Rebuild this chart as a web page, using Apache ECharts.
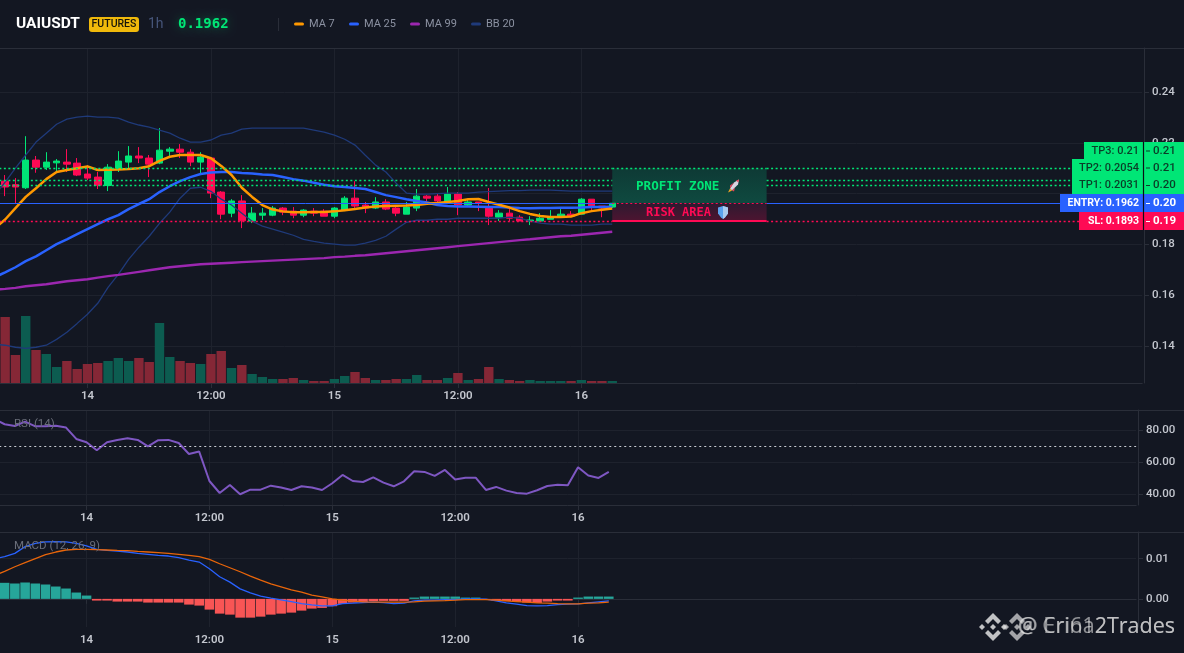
<!DOCTYPE html>
<html><head><meta charset="utf-8">
<style>html,body{margin:0;padding:0;background:#131722;overflow:hidden}#c{width:1184px;height:653px}</style>
<script src="https://cdn.jsdelivr.net/npm/echarts@6/dist/echarts.min.js"></script>
</head><body><div id="c"></div>
<script>
// candles: [open, close, low, high]
const candles = [
[.2049,.2026,.1990,.2073],[.2035,.2026,.1963,.2061],[.2023,.2132,.2018,.2226],[.2132,.2104,.2082,.2148],[.2104,.2124,.2093,.2163],
[.2121,.2128,.2085,.2136],[.2124,.2116,.2085,.2175],[.2120,.2073,.2069,.2140],[.2077,.2061,.2053,.2112],[.2065,.2033,.2018,.2085],
[.2032,.2104,.2010,.2116],[.2100,.2128,.2085,.2167],[.2124,.2148,.2093,.2187],[.2148,.2140,.2120,.2183],[.2140,.2116,.2065,.2152],
[.2120,.2171,.2116,.2258],[.2167,.2175,.2140,.2183],[.2175,.2163,.2140,.2195],[.2163,.2124,.2108,.2175],[.2124,.2144,.2081,.2163],
[.2140,.2002,.1982,.2144],[.2006,.1919,.1899,.2010],[.1923,.1971,.1907,.1978],[.1971,.1893,.1864,.1994],[.1892,.1923,.1884,.1947],
[.1915,.1923,.1896,.1943],[.1915,.1943,.1911,.1951],[.1943,.1927,.1915,.1947],[.1931,.1915,.1903,.1947],[.1915,.1935,.1907,.1939],
[.1931,.1923,.1911,.1943],[.1931,.1911,.1911,.1939],[.1911,.1943,.1903,.1947],[.1935,.1982,.1931,.1990],[.1982,.1951,.1943,.2049],
[.1955,.1943,.1923,.1967],[.1943,.1967,.1939,.1986],[.1967,.1939,.1935,.1978],[.1943,.1923,.1911,.1955],[.1919,.1947,.1919,.1967],
[.1943,.1990,.1931,.2018],[.1990,.1982,.1967,.1994],[.1990,.1971,.1955,.2002],[.1967,.1998,.1959,.2026],[.1998,.1955,.1915,.2006],
[.1955,.1967,.1947,.1975],[.1967,.1963,.1931,.1967],[.1943,.1911,.1876,.2022],[.1907,.1923,.1892,.1935],[.1923,.1903,.1892,.1939],
[.1907,.1892,.1892,.1915],[.1892,.1896,.1876,.1911],[.1892,.1903,.1892,.1923],[.1899,.1907,.1899,.1935],[.1911,.1919,.1911,.1939],
[.1919,.1911,.1907,.1931],[.1919,.1978,.1919,.1982],[.1978,.1951,.1931,.1978],[.1951,.1943,.1907,.1951],[.1947,.1962,.1943,.1963]
];
const volumes = [66,28,67,33,29,16,22,14,19,20,22,25,22,25,21,60,26,22,20,19,29,32,15,18,9,6,4,4,5,3,
2,2,4,7,11,5,3,3,4,4,8,3,3,5,10,3,4,16,4,3,2,3,2,2,2,2,3,2,2,2];
const volumeUp = [0,0,1,0,1,1,0,0,0,0,1,1,1,0,0,1,1,0,0,1,0,0,1,0,1,1,1,0,0,1,
0,0,1,1,0,0,1,0,0,1,1,0,0,1,0,1,0,0,1,0,0,1,1,1,1,0,1,0,0,1];
// line series start with one point just left of the visible frame
const ma7 = [.1864,
.1898,.1943,.1987,.2021,.2057,.2085,.2093,.2100,.2107,.2093,
.2094,.2095,.2097,.2100,.2108,.2129,.2145,.2152,.2152,.2152,
.2139,.2109,.2073,.2023,.1987,.1955,.1937,.1930,.1927,.1927,
.1928,.1928,.1930,.1934,.1939,.1945,.1949,.1951,.1952,.1953,
.1955,.1960,.1963,.1967,.1971,.1978,.1979,.1967,.1956,.1945,
.1931,.1920,.1912,.1908,.1908,.1910,.1923,.1931,.1936,.1941];
const ma25 = [.1671,
.1690,.1710,.1734,.1753,.1777,.1801,.1820,.1840,.1860,.1880,
.1899,.1915,.1939,.1959,.1978,.2006,.2029,.2049,.2065,.2077,
.2083,.2085,.2085,.2081,.2079,.2075,.2073,.2065,.2057,.2051,
.2043,.2035,.2029,.2026,.2022,.2018,.2006,.1994,.1986,.1978,
.1971,.1965,.1955,.1951,.1949,.1949,.1948,.1947,.1947,.1945,
.1943,.1942,.1943,.1943,.1944,.1944,.1945,.1947,.1947,.1948];
const ma99 = [.1622,
.1625,.1629,.1635,.1639,.1643,.1649,.1655,.1659,.1663,.1669,
.1675,.1680,.1686,.1692,.1698,.1704,.1710,.1714,.1718,.1722,
.1724,.1726,.1728,.1730,.1732,.1734,.1736,.1738,.1740,.1742,
.1744,.1746,.1750,.1752,.1755,.1757,.1761,.1765,.1769,.1773,
.1777,.1781,.1785,.1789,.1793,.1797,.1801,.1805,.1809,.1813,
.1817,.1820,.1824,.1828,.1832,.1834,.1838,.1842,.1846,.1850];
const bbUpper = [.1994,
.2045,.2100,.2152,.2203,.2238,.2273,.2293,.2301,.2305,.2301,
.2301,.2297,.2281,.2270,.2262,.2250,.2238,.2218,.2203,.2203,
.2211,.2230,.2238,.2254,.2258,.2258,.2258,.2258,.2258,.2258,
.2250,.2242,.2230,.2214,.2191,.2151,.2112,.2085,.2041,.2002,
.1998,.1998,.2000,.2002,.2002,.2002,.2006,.2008,.2010,.2012,
.2012,.2014,.2014,.2014,.2012,.2010,.2010,.2010,.2010,.2010];
const bbLower = [.1407,
.1403,.1395,.1391,.1395,.1403,.1426,.1454,.1489,.1525,.1568,
.1631,.1682,.1741,.1789,.1832,.1883,.1927,.1982,.2021,.2025,
.2009,.1978,.1955,.1923,.1891,.1872,.1860,.1848,.1836,.1820,
.1812,.1805,.1801,.1797,.1797,.1805,.1816,.1832,.1860,.1887,
.1895,.1895,.1899,.1899,.1903,.1903,.1903,.1903,.1903,.1907,
.1903,.1892,.1884,.1880,.1880,.1876,.1876,.1876,.1880,.1880];
const rsi = [87,
83.8,82.7,85.4,82.5,82.5,82.9,81.7,74.6,72.5,67.5,
72.5,74,75,74,70,73.8,74,72.1,65.2,66.7,
48.3,40.8,45.8,40,42.9,42.9,45.4,44.2,42.7,45,
44.2,42.7,46.9,52.1,48.3,47.7,50.6,47.3,45,48.1,
54.4,54,51.5,55.2,49.2,50.4,50.4,42.7,44.6,42.3,
40.8,40.4,42.5,45.2,46,45.6,56.9,51.7,50.2,54];
// MACD family, in thousandths
const macdLine = [10,
10.5,11.33,13,13.83,14.17,14.25,14.17,13.83,13.17,12.33,
12.08,11.92,11.67,11.33,11.08,10.83,10.67,10.25,9.67,9.17,
7.5,5.5,4.17,2.5,1.5,.67,.17,-.25,-.67,-1.17,
-1.5,-1.75,-1.75,-1.17,-1.08,-.92,-.83,-.92,-1.17,-1.08,
-.5,-.33,-.33,-.17,-.17,0,0,-.08,-.5,-1,
-1.33,-1.67,-1.75,-1.67,-1.42,-1.33,-1.25,-1,-.75,-.5];
const macdSignal = [5.83,
6.83,8,9,10,11,11.67,12.17,12.33,12.33,12.25,
12.17,12.08,12,11.83,11.67,11.5,11.33,11.08,10.83,10.5,
9.83,8.75,7.75,6.75,5.67,4.67,3.75,3,2.25,1.67,
.92,.5,0,-.33,-.58,-.75,-.83,-.83,-.83,-.83,
-.75,-.58,-.5,-.42,-.33,-.17,-.17,-.17,-.33,-.5,
-.67,-.83,-1,-1.08,-1.17,-1.25,-1.25,-1.08,-1,-.83];
const macdHist = [
4,3.83,4.08,3.83,3.58,3.08,2.58,1.58,.83,-.42,
-.42,-.67,-.67,-.67,-.92,-.92,-.92,-.92,-1.42,-1.67,
-2.67,-3.67,-3.92,-4.67,-4.67,-4.42,-3.92,-3.67,-3.42,-2.92,
-2.42,-2.25,-1.83,-1.25,-.92,-.75,-.58,-.5,-.5,-.5,
.33,.58,.58,.58,.58,.33,.33,-.25,-.42,-.58,
-.75,-.92,-1,-.67,-.42,-.42,.33,.58,.58,.58];
const levels = {tp3:.2099, tp2:.2054, tp1:.2031, entry:.1962, sl:.1893};
const priceTicks = [.14,.16,.18,.20,.22,.24];
const rsiTicks = [40,60,80];
const macdTicks = [0,.01];
const legendItems = [['MA 7','#ff9800',294,309],['MA 25','#2962ff',349,364],['MA 99','#9c27b0',410,425],['BB 20','#1f3a7a',471,486]];
const priceTags = [
 ['TP3: 0.21','0.21',1084,142,17,'#00e676','#0a3d28'],
 ['TP2: 0.2054','0.21',1072,159,17,'#00e676','#0a3d28'],
 ['TP1: 0.2031','0.20',1072,176,18,'#00e676','#0a3d28'],
 ['ENTRY: 0.1962','0.20',1060,194,18,'#2962ff','#ffffff'],
 ['SL: 0.1893','0.19',1079,212,18,'#ff0a54','#ffffff']];

const SLOTS = 112, LEAD = 1, LAST_TIME_SLOT = 57, DAY_SLOT = 9, ZONE_FROM = 60, ZONE_TO = 75;
const categories = [];
for (let k=0;k<SLOTS;k++){const h=k-DAY_SLOT;
  categories.push(((h%24)+24)%24===0 ? String(14+h/24) : (((h%24)+24)%24===12 ? '12:00' : String(((h%24)+24)%24)+':00'));}
const isMark = i => { const h=i-DAY_SLOT; return i<=LAST_TIME_SLOT && ((h%12)+12)%12===0; };
const pad = a => Array(LEAD).fill('-').concat(a);
const milli = a => a.map(v => v==='-'?v:v/1000);

const GRID='#1e222d', AXIS='#2a2e39', LABEL='#c3c6ce', UP='#00e676', DOWN='#ff0a54';
const xAxisFor = (g,show) => ({type:'category',gridIndex:g,data:categories,boundaryGap:true,
  axisLine:{show:show,lineStyle:{color:AXIS}},
  axisTick:{show:show,alignWithLabel:true,interval:isMark,length:5,lineStyle:{color:AXIS}},
  splitLine:{show:show,alignWithLabel:true,interval:isMark,lineStyle:{color:GRID}},
  axisLabel:{show:show,interval:isMark,color:LABEL,fontSize:11.5,fontWeight:600,fontFamily:'Roboto',margin:7,
    formatter:v=>/^\d+$/.test(v)||v==='12:00'?v:''}});
const yAxisFor = (g,min,max,ticks,fmt,off) => ({type:'value',gridIndex:g,position:'right',offset:off,min,max,scale:true,
  axisLine:{show:true,lineStyle:{color:AXIS}},
  axisTick:{show:true,length:5,customValues:ticks,lineStyle:{color:AXIS}},
  axisLabel:{color:LABEL,fontSize:11.5,fontWeight:500,fontFamily:'Roboto',margin:8,padding:[2,0,0,0],customValues:ticks,formatter:fmt},
  splitLine:{show:true,lineStyle:{color:GRID}}});

const line=(name,data,x,y,color,w)=>({name,type:'line',data,xAxisIndex:x,yAxisIndex:y,showSymbol:false,symbol:'none',
  lineStyle:{color,width:w},silent:true,clip:true,z:3,animation:false});

const g=[];
const txt=(x,y,text,fill,font,align,extra)=>g.push({type:'text',z:100,x,y,silent:true,
  style:Object.assign({text,fill,font,align:align||'left',verticalAlign:'middle'},extra||{})});
const rect=(x,y,w,h,fill,r)=>g.push({type:'rect',z:99,silent:true,shape:{x,y,width:w,height:h,r:r||0},style:{fill}});
const seg=(x1,y1,x2,y2,stroke,lw,zz)=>g.push({type:'line',z:zz||98,silent:true,shape:{x1,y1,x2,y2},style:{stroke,lineWidth:lw||1}});

seg(0,48.5,1184,48.5,AXIS); seg(0,410.5,1184,410.5,AXIS); seg(0,532.5,1184,532.5,AXIS);
txt(16,24.5,'UAIUSDT','#ffffff','bold 15.5px Roboto');
rect(89,17,50,15,'#f0b90b',3);
txt(114,24.5,'FUTURES','#17150a','500 10.5px Roboto','center');
txt(148,24.5,'1h','#46557a','14px Roboto');
txt(178,24.5,'0.1962',UP,'bold 14px "DejaVu Sans Mono"','left',{textShadowColor:'rgba(0,230,118,.35)',textShadowBlur:8});
seg(278.5,18,278.5,31,AXIS);
legendItems.forEach(([t,c,x,tx])=>{rect(x,22.5,10,3,c,1.5);txt(tx,24.5,t,'#8b91a1','11px Roboto');});
txt(14,424,'RSI (14)','#6a6e7a','11.5px Roboto');
txt(14,546,'MACD (12, 26, 9)','#6a6e7a','11.5px Roboto');
priceTags.forEach(([t,v,x,y,h,bg,fg])=>{
  rect(x,y,1184-x,h,bg);
  const cy=y+h/2+.5, f='500 11px Roboto', b='bold 10.5px Roboto';
  txt(1139,cy,t,fg,bg==='#00e676'?f:b,'right');
  txt(1153,cy,v,fg,bg==='#00e676'?'500 11.5px Roboto':'bold 11.5px Roboto');
  seg(1146,cy,1150,cy,fg,1,100);
});
seg(1143.5,142,1143.5,230,'#0b0e14',1.2,100);
// zone captions' icons
const rocket=(cx,cy)=>{
  g.push({type:'polygon',z:100,silent:true,shape:{points:[[cx+6,cy-7],[cx+5,cy-2],[cx-1,cy+4],[cx-3,cy+2],[cx+1,cy-4]]},style:{fill:'#d9d3e0'}});
  g.push({type:'polygon',z:100,silent:true,shape:{points:[[cx+6,cy-7],[cx+5.4,cy-4],[cx+3,cy-6]]},style:{fill:'#e8405a'}});
  g.push({type:'polygon',z:100,silent:true,shape:{points:[[cx-3,cy-1],[cx+1,cy-4],[cx-3,cy+2]]},style:{fill:'#e8405a'}});
  g.push({type:'polygon',z:100,silent:true,shape:{points:[[cx+2,cy+1],[cx-1,cy+4],[cx+1,cy+5]]},style:{fill:'#e8405a'}});
  g.push({type:'polygon',z:100,silent:true,shape:{points:[[cx-3,cy+2],[cx-1,cy+4],[cx-5,cy+6]]},style:{fill:'#f5a623'}});
};
const shield=(cx,cy)=>{
  g.push({type:'polygon',z:100,silent:true,shape:{points:[[cx-5,cy-5],[cx,cy-6.5],[cx+5,cy-5],[cx+5,cy+1],[cx+2,cy+5],[cx,cy+6.5],[cx-2,cy+5],[cx-5,cy+1]]},style:{fill:'#5aa2ee'}});
  g.push({type:'polygon',z:100,silent:true,shape:{points:[[cx,cy-6.5],[cx+5,cy-5],[cx+5,cy+1],[cx+2,cy+5],[cx,cy+6.5]]},style:{fill:'#a9cbef'}});
};
rocket(733,186.5); shield(723,212.5);
txt(636,186.5,'PROFIT ZONE',UP,'bold 12.6px "DejaVu Sans Mono"');
txt(646,213,'RISK AREA','#ff0a54','bold 12px "DejaVu Sans Mono"');
// watermark
const logo=(cx,cy,s,fill)=>{
  const P=(pts)=>g.push({type:'polygon',z:101,silent:true,shape:{points:pts.map(([a,b])=>[cx+a*s,cy+b*s])},style:{fill}});
  P([[0,-14],[8,-6],[5,-3],[0,-8],[-5,-3],[-8,-6]]);
  P([[0,14],[8,6],[5,3],[0,8],[-5,3],[-8,6]]);
  P([[0,-3],[3,0],[0,3],[-3,0]]);
  P([[-11,-3],[-8,0],[-11,3],[-14,0]]);
  P([[11,-3],[14,0],[11,3],[8,0]]);
};
logo(993,627,1,'rgba(225,225,225,.85)');
logo(1017,627,1,'rgba(225,225,225,.7)');
txt(1175,627,'@ Erina2Trades','rgba(225,225,225,.6)','21.5px "Open Sans"','right');
txt(1175,627,'@ Cri612Trades','rgba(225,225,225,.6)','21.5px "Open Sans"','right');

const dotted=(v,color,lw)=>[
  [{xAxis:0,yAxis:v,lineStyle:{color,type:[2,2.5],width:lw}},{xAxis:ZONE_FROM,yAxis:v}],
  [{xAxis:ZONE_TO,yAxis:v,lineStyle:{color,type:[2,2.5],width:lw}},{xAxis:SLOTS-1,yAxis:v}]];
const solid=(v,color,lw)=>[
  [{xAxis:0,yAxis:v,lineStyle:{color,type:'solid',width:lw}},{xAxis:ZONE_FROM,yAxis:v}],
  [{xAxis:ZONE_TO,yAxis:v,lineStyle:{color,type:'solid',width:lw}},{xAxis:SLOTS-1,yAxis:v}]];

const G0={outerBoundsMode:'none',containLabel:false};
const opt={
 backgroundColor:'#131722',animation:false,
 grid:[
  Object.assign({left:-10.29,top:48,width:1152.48,height:335},G0),
  Object.assign({left:-10.29,top:48,width:1152.48,height:335},G0),
  Object.assign({left:-10.74,top:410,width:1146.88,height:95},G0),
  Object.assign({left:-10.74,top:532,width:1146.88,height:95},G0)],
 xAxis:[xAxisFor(0,true),xAxisFor(1,false),xAxisFor(2,true),xAxisFor(3,true)],
 yAxis:[
  yAxisFor(0,.12543,.25732,priceTicks,v=>v.toFixed(2),1.81),
  {type:'value',gridIndex:1,min:0,max:335,show:false,splitLine:{show:false}},
  yAxisFor(2,33.3,92.7,rsiTicks,v=>v.toFixed(2),1.86),
  yAxisFor(3,-.007,.01665,macdTicks,v=>v.toFixed(2),1.86)],
 series:[
  {type:'bar',xAxisIndex:1,yAxisIndex:1,barWidth:9.4,z:1,silent:true,
   data:pad(volumes.map((v,i)=>({value:v,itemStyle:{color:volumeUp[i]?'#0c5c50':'#852736'}})))},
  {type:'candlestick',xAxisIndex:0,yAxisIndex:0,barWidth:7,z:2,silent:true,
   data:[[null,null,null,null]].concat(candles),
   itemStyle:{color:UP,color0:DOWN,borderColor:UP,borderColor0:DOWN,borderWidth:1},
   markLine:{silent:true,symbol:'none',animation:false,precision:4,label:{show:false},data:[
     ...dotted(levels.tp3,UP,1.4),...dotted(levels.tp2,UP,1.4),...dotted(levels.tp1,UP,1.4),
     ...solid(levels.entry,'#2962ff',1),...dotted(levels.sl,DOWN,1.4)]}},
  line('BB upper',bbUpper,0,0,'#1f3a7a',1.3),
  line('BB lower',bbLower,0,0,'#1f3a7a',1.3),
  line('MA 99',ma99,0,0,'#9c27b0',2.4),
  line('MA 25',ma25,0,0,'#2962ff',2.5),
  line('MA 7',ma7,0,0,'#ff9800',2.5),
  {type:'line',xAxisIndex:0,yAxisIndex:0,data:[],z:6,silent:true,
   markArea:{silent:true,animation:false,data:[
     [{xAxis:ZONE_FROM,yAxis:levels.tp3,itemStyle:{color:{type:'linear',x:0,y:0,x2:0,y2:1,colorStops:[{offset:0,color:'#0e3a35'},{offset:1,color:'#0f4a40'}]},opacity:1}},{xAxis:ZONE_TO,yAxis:levels.entry}],
     [{xAxis:ZONE_FROM,yAxis:levels.entry,itemStyle:{color:{type:'linear',x:0,y:0,x2:0,y2:1,colorStops:[{offset:0,color:'#2e1a30'},{offset:1,color:'#4d1430'}]},opacity:1}},{xAxis:ZONE_TO,yAxis:levels.sl}]]},
   markLine:{silent:true,symbol:'none',animation:false,precision:4,label:{show:false},data:[
     [{xAxis:ZONE_FROM,yAxis:levels.tp3,lineStyle:{color:UP,type:[2,2.5],width:1.4}},{xAxis:ZONE_TO,yAxis:levels.tp3}],
     [{xAxis:ZONE_FROM,yAxis:levels.entry,lineStyle:{color:DOWN,type:[2,2.5],width:1}},{xAxis:ZONE_TO,yAxis:levels.entry}],
     [{xAxis:ZONE_FROM,yAxis:levels.sl,lineStyle:{color:DOWN,type:'solid',width:2}},{xAxis:ZONE_TO,yAxis:levels.sl}]]}},
  Object.assign(line('RSI',rsi,2,2,'#7e57c2',2),{markLine:{silent:true,symbol:'none',animation:false,label:{show:false},
     data:[{yAxis:70,lineStyle:{color:'#c9ccd3',type:[2,3],width:1}}]}}),
  {type:'bar',xAxisIndex:3,yAxisIndex:3,barWidth:9.6,z:2,silent:true,
   data:pad(milli(macdHist).map(v=>({value:v,itemStyle:{color:v>=0?'#26a69a':'#f85555'}})))},
  line('MACD',milli(macdLine),3,3,'#2962ff',1.3),
  line('Signal',milli(macdSignal),3,3,'#e8650a',1.3)
 ],
 graphic:{elements:g}
};
echarts.init(document.getElementById('c'),null,{renderer:'canvas'}).setOption(opt);
</script></body></html>
